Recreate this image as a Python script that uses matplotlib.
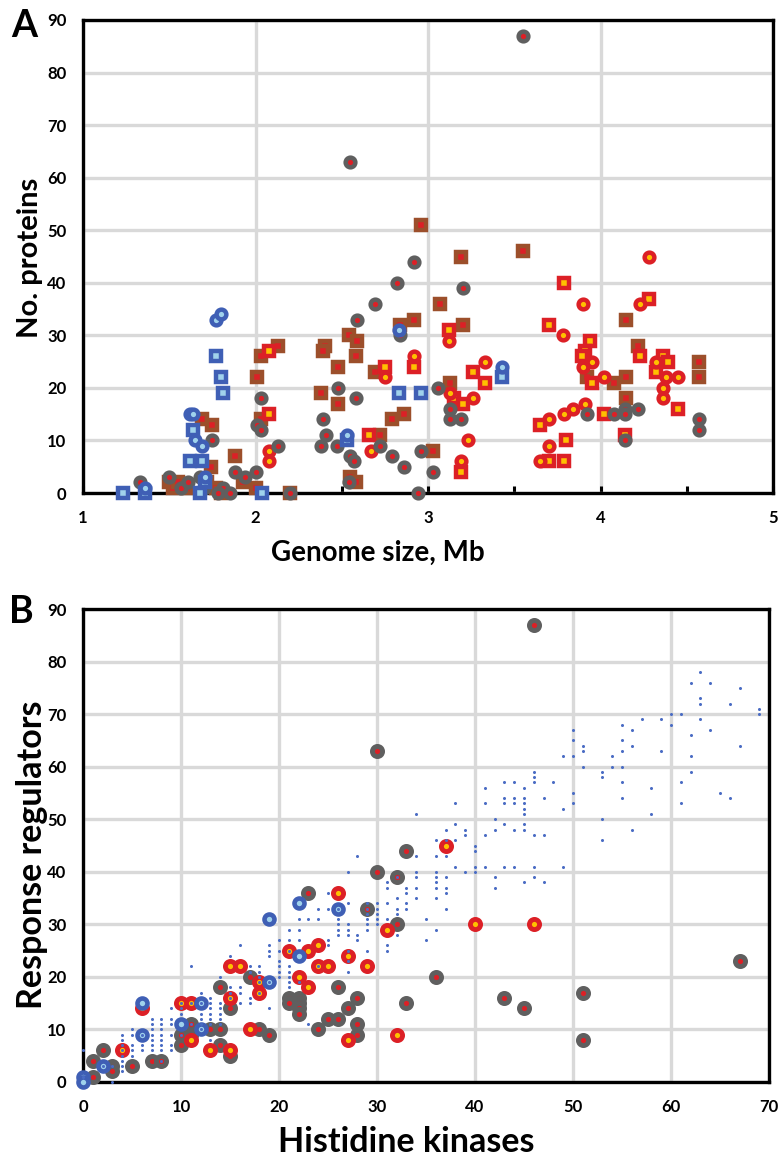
import matplotlib
matplotlib.use('Agg')
import matplotlib.pyplot as plt
from matplotlib.ticker import MultipleLocator

# ---------------- DATA ----------------
# Panel A : genome size (Mb) vs number of proteins
a_gray = [(2.03, 18), (2.01, 13), (2.03, 12), (1.75, 10), (1.33, 2), (1.50, 3), (1.57, 1), (1.61, 2),
          (1.88, 4), (1.94, 3), (2.00, 4), (1.81, 1), (1.85, 0), (1.78, 0), (2.20, 0), (2.13, 9),
          (2.92, 44), (2.82, 40), (2.69, 36), (2.59, 33), (2.84, 30), (2.48, 20), (2.58, 18), (2.39, 14),
          (2.41, 11), (2.38, 9), (2.47, 9), (2.55, 7), (2.57, 6), (2.72, 9), (2.79, 7), (2.86, 5),
          (2.96, 8), (3.03, 4), (2.54, 2), (2.94, 0), (3.06, 20), (3.55, 87), (2.55, 63), (3.20, 39),
          (3.13, 16), (3.13, 14), (3.19, 14), (3.92, 15), (4.08, 15), (4.14, 16), (4.14, 15), (4.22, 16),
          (4.14, 10), (4.57, 14), (4.57, 12), (1.68, 3), (1.70, 1)]
a_brown = [(2.03, 26), (2.01, 22), (2.13, 28), (2.03, 14), (1.88, 7), (1.69, 14), (1.75, 13), (1.74, 5),
           (1.50, 2), (1.93, 2), (2.00, 1), (1.52, 1), (1.55, 2), (1.60, 1), (1.72, 2), (1.77, 1), (1.80, 0),
           (2.40, 28), (2.39, 27), (2.54, 30), (2.59, 29), (2.48, 24), (2.58, 26), (2.69, 23), (2.38, 19),
           (2.48, 17), (2.79, 14), (2.86, 15), (2.84, 32), (2.92, 33), (2.96, 51), (3.07, 36), (2.55, 3),
           (2.58, 2), (3.03, 8), (2.72, 11), (3.19, 45), (3.55, 46), (3.20, 32), (3.13, 21), (3.92, 22),
           (4.15, 33), (4.22, 28), (4.08, 21), (4.15, 22), (4.15, 18), (4.57, 25), (4.57, 22), (2.20, 0)]
a_red_circle = [(2.08, 8), (2.08, 6), (2.75, 22), (2.92, 26), (2.67, 8), (3.12, 29), (3.33, 25), (3.26, 18),
                (3.23, 10), (3.19, 6), (3.13, 19), (3.90, 36), (3.78, 30), (3.95, 25), (3.90, 24), (4.02, 22),
                (3.91, 17), (3.84, 16), (3.79, 15), (3.70, 14), (3.70, 9), (3.65, 6), (4.28, 45), (4.23, 36),
                (4.32, 25), (4.38, 22), (4.45, 22), (4.36, 20), (4.36, 18)]
a_red_square = [(2.08, 27), (2.08, 15), (2.75, 24), (2.92, 24), (2.66, 11), (3.12, 31), (3.26, 23), (3.33, 21),
                (3.15, 18), (3.20, 17), (3.19, 4), (3.79, 40), (3.70, 32), (3.94, 29), (3.91, 27), (3.89, 26),
                (3.95, 21), (3.65, 13), (3.80, 10), (3.70, 6), (3.79, 6), (4.02, 15), (4.28, 37), (4.23, 26),
                (4.36, 26), (4.39, 25), (4.32, 23), (4.45, 16), (4.14, 11)]
a_blue_circle = [(1.77, 33), (1.80, 34), (1.62, 15), (1.64, 15), (1.65, 10), (1.69, 9), (1.71, 3), (1.36, 1),
                 (2.83, 31), (2.53, 11), (3.43, 24)]
a_blue_square = [(1.77, 26), (1.80, 22), (1.81, 19), (1.64, 12), (1.62, 6), (1.69, 6), (1.23, 0), (1.36, 0),
                 (1.68, 0), (2.04, 0), (2.83, 19), (2.96, 19), (2.53, 10), (3.43, 22), (1.71, 2)]

# Panel B : histidine kinases vs response regulators
b_gray = [(46, 87), (30, 63), (67, 23), (33, 44), (30, 40), (32, 39), (32, 30), (36, 20), (33, 15), (43, 16),
          (45, 14), (51, 17), (51, 8), (23, 36), (29, 33), (26, 18), (28, 16), (27, 14), (25, 12), (26, 12),
          (24, 10), (28, 11), (28, 9), (22, 16), (22, 15), (22, 14), (22, 13), (21, 16), (21, 15), (17, 20),
          (14, 18), (15, 14), (18, 10), (19, 9), (13, 10), (14, 10), (10, 9), (11, 11), (11, 9), (10, 7),
          (14, 7), (15, 5), (7, 4), (8, 4), (5, 3), (2, 6), (1, 4), (1, 1), (3, 3), (3, 2)]
b_red = [(37, 45), (40, 30), (46, 30), (31, 29), (32, 9), (26, 36), (27, 24), (29, 22), (24, 26), (23, 25),
         (21, 25), (24, 22), (25, 22), (22, 20), (23, 18), (27, 8), (15, 22), (16, 22), (18, 19), (18, 17),
         (15, 16), (10, 15), (11, 15), (17, 10), (4, 6), (13, 6), (15, 6), (11, 8), (6, 14)]
b_blue = [(6, 15), (6, 9), (2, 3), (0, 1), (0, 0), (10, 11), (12, 15), (12, 10), (19, 31), (22, 34),
          (22, 24), (26, 33), (19, 19)]
b_dots = [(0, 6), (3, 0), (4, 2), (4, 3), (4, 4), (4, 5), (4, 7), (4, 8), (4, 9), (5, 5), (5, 6), (5, 7), (5, 9),
          (5, 10), (6, 6), (6, 7), (7, 6), (7, 7), (7, 8), (7, 9), (7, 10), (7, 11), (7, 12), (8, 6), (8, 7),
          (8, 8), (8, 9), (8, 10), (8, 11), (8, 12), (9, 6), (9, 7), (9, 9), (9, 11), (9, 12), (9, 14),
          (10, 13), (10, 14), (11, 22), (12, 11), (12, 12), (12, 13), (12, 17), (13, 8), (13, 11), (13, 12),
          (13, 13), (13, 14), (13, 15), (13, 16), (14, 11), (14, 12), (14, 13), (14, 14), (14, 15), (14, 20),
          (15, 17), (15, 18), (15, 24), (16, 15), (16, 17), (16, 18), (16, 26), (17, 15), (17, 16), (17, 21),
          (17, 22), (18, 20), (18, 21), (18, 22), (19, 14), (19, 24), (19, 25), (19, 26), (20, 20), (20, 21),
          (20, 22), (20, 23), (20, 25), (20, 27), (21, 18), (21, 19), (21, 20), (21, 21), (21, 22), (21, 27),
          (21, 29), (22, 19), (22, 27), (22, 29), (22, 31), (23, 11), (23, 31), (24, 31), (24, 33), (25, 26),
          (25, 27), (25, 33), (25, 36), (26, 28), (26, 29), (26, 30), (26, 31), (27, 21), (27, 23), (27, 25),
          (27, 28), (27, 29), (27, 30), (27, 34), (27, 40), (28, 27), (28, 28), (28, 43), (29, 25), (29, 29),
          (29, 30), (29, 31), (29, 32), (29, 34), (30, 30), (30, 31), (30, 32), (30, 33), (30, 34), (31, 25),
          (31, 26), (31, 31), (31, 34), (31, 37), (31, 38), (32, 28), (32, 32), (32, 33), (32, 35), (33, 33),
          (33, 34), (33, 36), (33, 37), (34, 35), (34, 37), (34, 39), (34, 40), (34, 43), (34, 51), (35, 27),
          (35, 31), (36, 29), (36, 35), (36, 37), (36, 38), (36, 39), (36, 40), (36, 43), (36, 46), (37, 33),
          (37, 36), (37, 37), (37, 39), (37, 43), (37, 46), (37, 48), (38, 41), (38, 46), (38, 49), (38, 53),
          (39, 40), (39, 47), (39, 48), (40, 40), (40, 41), (40, 44), (40, 45), (41, 41), (41, 47), (41, 53),
          (41, 56), (42, 37), (42, 39), (42, 48), (42, 50), (43, 41), (43, 49), (43, 53), (43, 54), (43, 57),
          (44, 41), (44, 48), (44, 53), (44, 54), (44, 57), (45, 38), (45, 48), (45, 49), (45, 51), (45, 52),
          (45, 53), (45, 54), (45, 56), (46, 39), (46, 41), (46, 47), (46, 57), (46, 58), (46, 59), (47, 38),
          (47, 47), (47, 54), (48, 57), (49, 41), (49, 52), (49, 62), (50, 53), (50, 55), (50, 62), (50, 65),
          (50, 67), (51, 60), (51, 63), (51, 64), (53, 46), (53, 50), (53, 58), (53, 59), (54, 60), (54, 62),
          (55, 54), (55, 57), (55, 60), (55, 63), (55, 65), (55, 68), (56, 48), (56, 64), (56, 67), (57, 69),
          (58, 51), (58, 56), (59, 63), (59, 69), (60, 68), (60, 70), (61, 53), (61, 57), (61, 70), (62, 59),
          (62, 62), (62, 66), (62, 76), (63, 69), (63, 72), (63, 73), (63, 78), (64, 67), (64, 76), (65, 55),
          (66, 54), (66, 72), (67, 64), (67, 75), (69, 70), (69, 71),
          (0, 1), (2, 3), (3, 3), (4, 6), (6, 9), (8, 4), (10, 9), (10, 15), (11, 11), (11, 15), (12, 10),
          (12, 15), (15, 16), (18, 17), (18, 19), (19, 19), (21, 25), (24, 22), (26, 33), (29, 33), (32, 39)]

# ---------------- STYLE ----------------
GRAY = '#5f5f5f'
RED = '#dc2026'
BROWN = '#9c4f2b'
YELLOW = '#ffc000'
BLUE = '#3f5fb5'
LBLUE = '#9fd2ec'
DOT = '#4a6cc4'
GRID = '#d9d9d9'

W, H = 779, 1157
plt.rcParams['font.family'] = ['Lato', 'DejaVu Sans']
fig = plt.figure(figsize=(W / 100, H / 100), dpi=100)


def fx(px):
    return px / W


def fy(py):
    return 1 - py / H


axA = fig.add_axes([fx(83), fy(493), fx(773) - fx(83), fy(20) - fy(493)])
axB = fig.add_axes([fx(83), fy(1082), fx(769) - fx(83), fy(609) - fy(1082)])


def unzip(pts):
    return [p[0] for p in pts], [p[1] for p in pts]


def draw(ax, pts, marker, mec, mfc, ms, mew, z):
    x, y = unzip(pts)
    ax.plot(x, y, ls='none', marker=marker, ms=ms, mew=mew, mec=mec, mfc=mfc,
            zorder=z, clip_on=False)


def style(ax):
    ax.grid(True, color=GRID, lw=2.4)
    ax.set_axisbelow(True)
    for s in ax.spines.values():
        s.set_linewidth(2.4)
        s.set_color('black')
    ax.tick_params(axis='both', labelsize=12)
    for lab in ax.get_xticklabels() + ax.get_yticklabels():
        lab.set_fontweight('bold')


# Panel A
draw(axA, a_brown, 's', BROWN, RED, 7.4, 3.2, 3)
draw(axA, a_red_square, 's', RED, YELLOW, 7.4, 3.2, 3.1)
draw(axA, a_red_circle, 'o', RED, YELLOW, 7.0, 3.2, 3.2)
draw(axA, a_gray, 'o', GRAY, RED, 7.0, 3.2, 3.3)
draw(axA, a_blue_square, 's', BLUE, LBLUE, 7.4, 3.2, 3.4)
draw(axA, a_blue_circle, 'o', BLUE, LBLUE, 7.0, 3.2, 3.5)
axA.set_xlim(1, 5)
axA.set_ylim(0, 90)
axA.xaxis.set_major_locator(MultipleLocator(1))
axA.xaxis.set_minor_locator(MultipleLocator(0.5))
axA.yaxis.set_major_locator(MultipleLocator(10))
axA.tick_params(axis='x', which='both', direction='in', length=5, width=2.2, color='black')
axA.tick_params(axis='y', length=0, pad=12)
axA.tick_params(axis='x', which='major', pad=12)
axA.grid(False, which='minor')
style(axA)

# Panel B
draw(axB, b_gray, 'o', GRAY, RED, 7.3, 3.5, 3)
draw(axB, b_red, 'o', RED, YELLOW, 7.3, 3.5, 3.1)
draw(axB, b_blue, 'o', BLUE, LBLUE, 7.2, 3.3, 3.2)
dx, dy = unzip(b_dots)
axB.plot(dx, dy, ls='none', marker='o', ms=2.2, mew=0, mfc=DOT, zorder=4, clip_on=False)
axB.set_xlim(0, 70)
axB.set_ylim(0, 90)
axB.xaxis.set_major_locator(MultipleLocator(10))
axB.yaxis.set_major_locator(MultipleLocator(10))
axB.tick_params(axis='both', length=0)
axB.tick_params(axis='x', pad=12)
axB.tick_params(axis='y', pad=12)
style(axB)

# Labels
fig.text(fx(30), fy(258), 'No. proteins', rotation=90, ha='center', va='center',
         fontsize=21, fontweight='bold')
fig.text(fx(378), fy(553), 'Genome size, Mb', ha='center', va='center',
         fontsize=20, fontweight='bold')
fig.text(fx(32), fy(855), 'Response regulators', rotation=90, ha='center', va='center',
         fontsize=24.5, fontweight='bold')
fig.text(fx(406), fy(1142), 'Histidine kinases', ha='center', va='center',
         fontsize=24.5, fontweight='bold')
fig.text(fx(24), fy(26), 'A', ha='center', va='center', fontsize=27, fontweight='bold')
fig.text(fx(21), fy(612), 'B', ha='center', va='center', fontsize=27, fontweight='bold')

fig.savefig('out.png', dpi=100)
